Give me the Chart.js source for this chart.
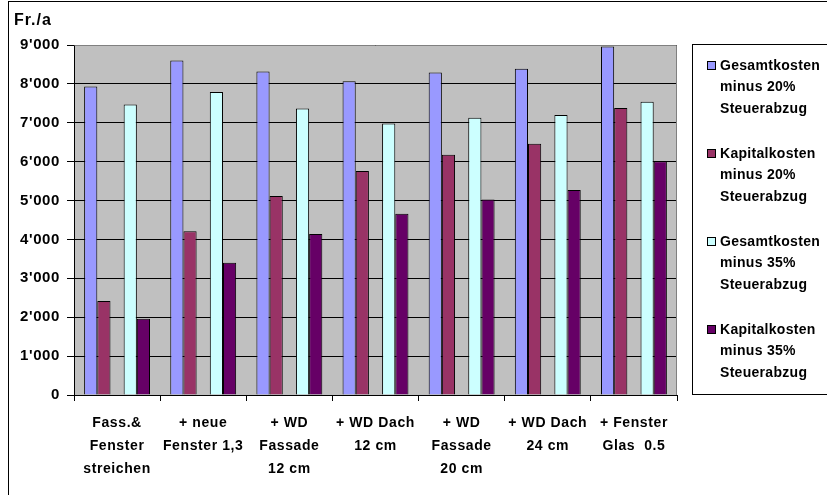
<!DOCTYPE html>
<html>
<head>
<meta charset="utf-8">
<script src="https://cdn.jsdelivr.net/npm/chart.js@4/dist/chart.umd.min.js"></script>
<style>
  html, body { margin: 0; padding: 0; background: #fff; }
  #wrap { width: 827px; height: 495px; position: relative; }
</style>
</head>
<body>
<div id="wrap"><canvas id="c" width="827" height="495"></canvas></div>
<script>
// Annual costs (Fr./a) of the renovation steps, for two tax deduction rates
const categories = [
  ["Fass.&", "Fenster", "streichen"],
  ["+ neue", "Fenster 1,3"],
  ["+ WD", "Fassade", "12 cm"],
  ["+ WD Dach", "12 cm"],
  ["+ WD", "Fassade", "20 cm"],
  ["+ WD Dach", "24 cm"],
  ["+ Fenster", "Glas  0.5"]
];
const gesamt20  = [7930, 8600, 8320, 8070, 8290, 8390, 8960];
const kapital20 = [2420, 4210, 5120, 5760, 6180, 6460, 7380];
const gesamt35  = [7470, 7790, 7370, 6980, 7130, 7200, 7540];
const kapital35 = [1960, 3400, 4140, 4660, 5030, 5270, 6010];
const seriesNames = [
  ["Gesamtkosten", "minus 20%", "Steuerabzug"],
  ["Kapitalkosten", "minus 20%", "Steuerabzug"],
  ["Gesamtkosten", "minus 35%", "Steuerabzug"],
  ["Kapitalkosten", "minus 35%", "Steuerabzug"]
];
const seriesColors = ["#9999FF", "#993366", "#CCFFFF", "#660066"];
const yTicks = [0, 1000, 2000, 3000, 4000, 5000, 6000, 7000, 8000, 9000];
const yUnit = "Fr./a";

const FONT = "'Liberation Sans', Arial, sans-serif";

function fmt(v) {
  return String(v).replace(/\B(?=(\d{3})+(?!\d))/g, "'");
}

function bar(i, data) {
  return {
    label: seriesNames[i].join(' '),
    data: data,
    backgroundColor: seriesColors[i],
    borderColor: '#000',
    borderWidth: 1,
    inLegend: true,
    legendIndex: i
  };
}

// Plot background, gray plot border, outer frame, unit label and legend
const decor = {
  id: 'decor',
  beforeDraw(chart) {
    const { ctx, chartArea: a } = chart;
    ctx.save();
    ctx.fillStyle = '#fff';
    ctx.fillRect(0, 0, chart.width, chart.height);
    ctx.fillStyle = '#C0C0C0';
    ctx.fillRect(a.left, a.top, a.right - a.left, a.bottom - a.top);
    ctx.restore();
    // slightly wider text spacing for all labels
    ctx.letterSpacing = '0.6px';
  },
  beforeDatasetsDraw(chart) {
    const { ctx, chartArea: a } = chart;
    ctx.save();
    ctx.strokeStyle = '#808080';
    ctx.lineWidth = 1;
    ctx.beginPath();
    ctx.moveTo(Math.round(a.left) + 0.5, Math.round(a.top) + 0.5);
    ctx.lineTo(Math.round(a.right) - 0.5, Math.round(a.top) + 0.5);
    ctx.lineTo(Math.round(a.right) - 0.5, Math.round(a.bottom));
    ctx.stroke();
    ctx.restore();
  },
  afterDraw(chart) {
    const { ctx } = chart;
    ctx.save();
    // outer frame
    ctx.strokeStyle = '#000';
    ctx.lineWidth = 1;
    ctx.strokeRect(8.5, 1.5, 900, 600);
    // unit label
    ctx.fillStyle = '#000';
    ctx.letterSpacing = '1px';
    ctx.font = 'bold 16px ' + FONT;
    ctx.textBaseline = 'middle';
    ctx.textAlign = 'left';
    ctx.fillText(yUnit, 14, 21);
    // legend box
    ctx.letterSpacing = '0.3px';
    ctx.font = 'bold 14px ' + FONT;
    ctx.strokeRect(692.5, 44.5, 300, 350);
    chart.data.datasets.forEach((ds) => {
      if (!ds.inLegend) return;
      const i = ds.legendIndex;
      const y0 = 66 + i * 88;
      ctx.fillStyle = ds.backgroundColor;
      ctx.fillRect(707, y0 - 5, 9, 9);
      ctx.strokeStyle = '#000';
      ctx.strokeRect(707.5, y0 - 4.5, 8, 8);
      ctx.fillStyle = '#000';
      seriesNames[i].forEach((line, j) => {
        ctx.fillText(line, 720, y0 + j * 21.5);
      });
    });
    ctx.restore();
    ctx.letterSpacing = '0px';
  }
};

new Chart(document.getElementById('c'), {
  type: 'bar',
  data: {
    labels: categories,
    datasets: [
      bar(0, gesamt20),
      bar(1, kapital20),
      // empty slot between the two tax-rate pairs
      { label: '', data: [], backgroundColor: 'transparent', borderWidth: 0 },
      bar(2, gesamt35),
      bar(3, kapital35)
    ]
  },
  options: {
    responsive: false,
    animation: false,
    events: [],
    devicePixelRatio: 1,
    layout: { padding: { left: 0, right: 150, top: 45, bottom: 0 } },
    datasets: { bar: { categoryPercentage: 0.765, barPercentage: 1.0 } },
    plugins: { legend: { display: false }, tooltip: { enabled: false }, title: { display: false } },
    scales: {
      x: {
        offset: true,
        afterFit(scale) { scale.height = 100; },
        grid: { offset: true, drawOnChartArea: false, color: '#000', tickLength: 6, lineWidth: 1 },
        border: { color: '#000', width: 1 },
        ticks: {
          color: '#000',
          padding: 11,
          maxRotation: 0,
          autoSkip: false,
          font: { family: FONT, size: 14, weight: 'bold', lineHeight: 1.64 }
        }
      },
      y: {
        min: 0,
        max: 9000,
        afterFit(scale) { scale.width = 74; },
        afterBuildTicks(scale) { scale.ticks = yTicks.map(v => ({ value: v })); },
        grid: { color: '#000', tickLength: 7, lineWidth: 1 },
        border: { color: '#000', width: 1 },
        ticks: {
          color: '#000',
          padding: 7,
          font: { family: FONT, size: 15, weight: 'bold' },
          callback: (v) => fmt(v)
        }
      }
    }
  },
  plugins: [decor]
});
</script>
</body>
</html>
